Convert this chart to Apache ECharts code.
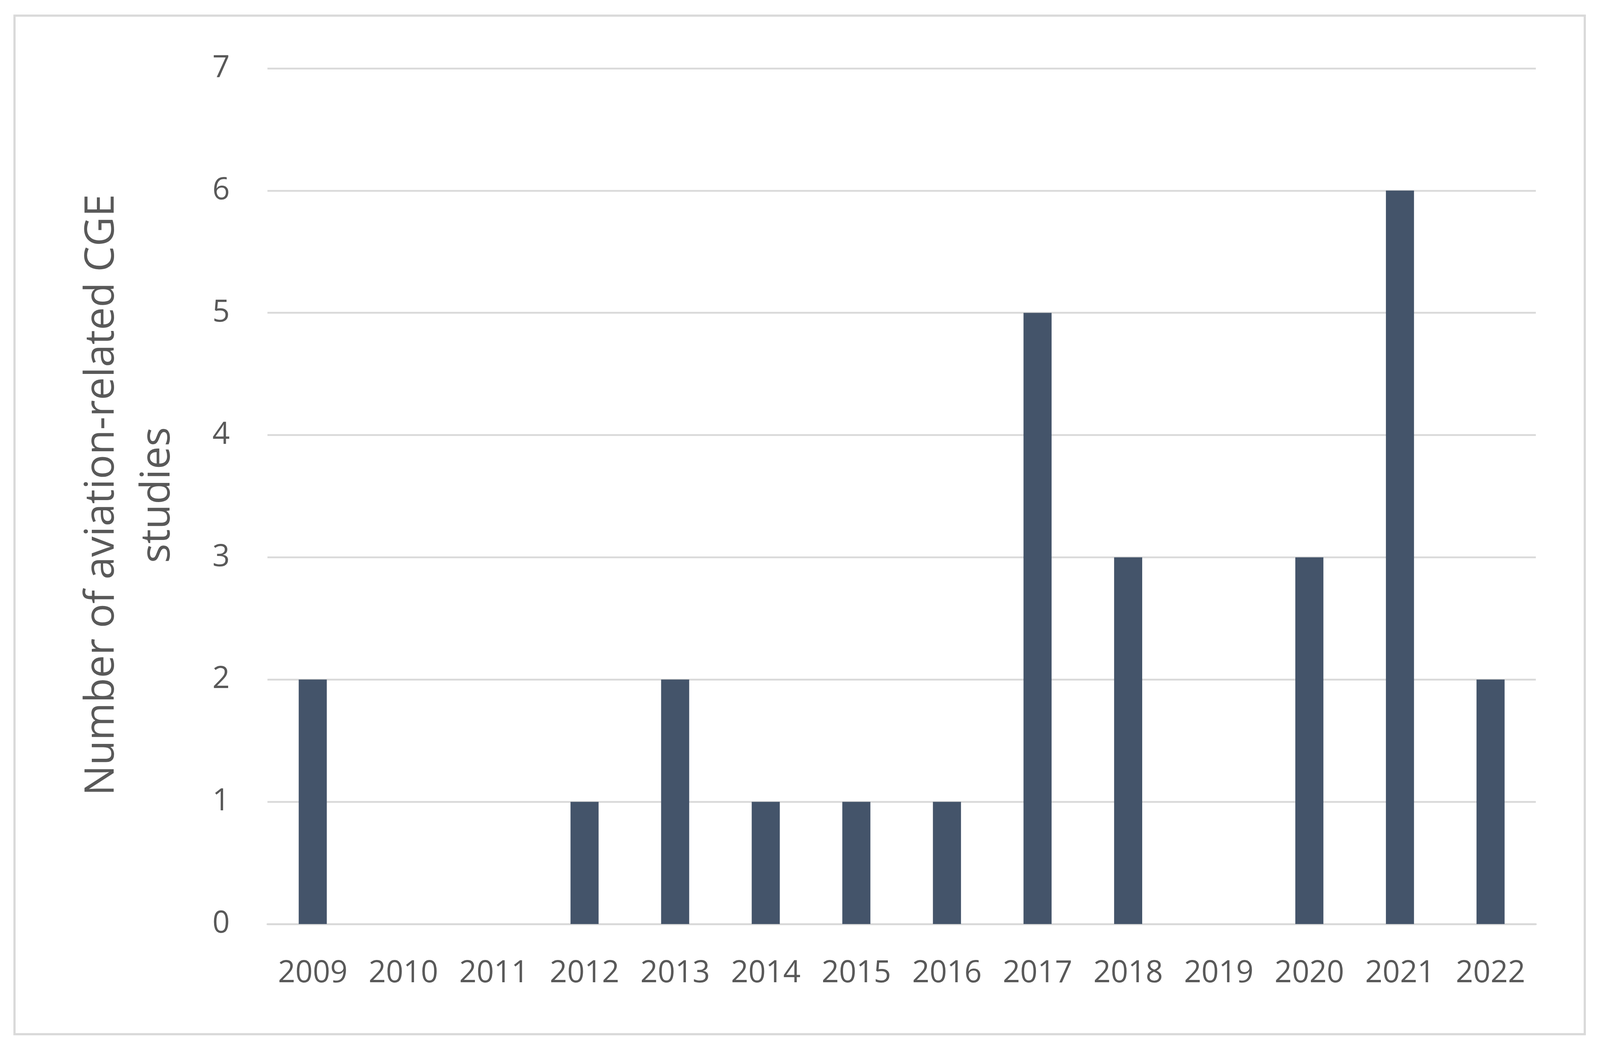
<!DOCTYPE html>
<html>
<head>
<meta charset="utf-8">
<script src="https://cdn.jsdelivr.net/npm/echarts@6/dist/echarts.min.js"></script>
<style>html,body{margin:0;padding:0;background:#fff;overflow:hidden}#main{width:100vw;height:100vh}</style>
</head>
<body>
<div id="main"></div>
<script>
var years = ['2009','2010','2011','2012','2013','2014','2015','2016','2017','2018','2019','2020','2021','2022'];
var studies = [2, 0, 0, 1, 2, 1, 1, 1, 5, 3, 0, 3, 6, 2];
var yTicks = [0, 7, 1];

var el = document.getElementById('main');
var W = el.clientWidth, H = el.clientHeight;
var s = W / 4415, sy = H / 2690;
var myChart = echarts.init(el);
var option = {
    backgroundColor: '#fff',
    animation: false,
    grid: { left: 738 * s, right: 177 * s, top: 175 * sy, bottom: 325 * sy },
    graphic: [
        { type: 'rect', shape: { x: 40 * s, y: 40 * sy, width: 4333 * s, height: 2607 * sy },
          style: { fill: 'none', stroke: '#d9d9d9', lineWidth: 6 * s } },
        { type: 'text', x: 359 * s, y: 1267 * sy, rotation: Math.PI / 2,
          style: { text: 'Number of aviation-related CGE\nstudies', font: (112 * s) + 'px "Open Sans", sans-serif',
                   fill: '#595959', align: 'center', verticalAlign: 'middle', lineHeight: 154 * s } }
    ],
    xAxis: {
        type: 'category',
        data: years,
        axisLine: { lineStyle: { color: '#d9d9d9', width: 5 * s } },
        axisTick: { show: false },
        axisLabel: { color: '#595959', fontSize: 84 * s, fontFamily: 'Open Sans', margin: 95 * s, interval: 0 }
    },
    yAxis: {
        type: 'value',
        min: yTicks[0], max: yTicks[1], interval: yTicks[2],
        axisLine: { show: false },
        axisTick: { show: false },
        splitLine: { lineStyle: { color: '#d9d9d9', width: 5 * s } },
        axisLabel: { color: '#595959', fontSize: 84 * s, fontFamily: 'Open Sans', margin: 104 * s }
    },
    series: [{
        type: 'bar',
        data: studies,
        barWidth: '31%',
        itemStyle: { color: '#44546a' }
    }]
};
myChart.setOption(option);
</script>
</body>
</html>
